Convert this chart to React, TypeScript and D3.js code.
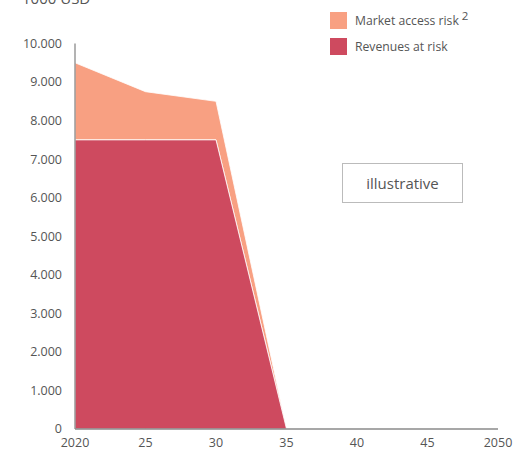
import React from "react";
import * as d3 from "d3";

const years = [2020, 2025, 2030, 2035, 2040, 2045, 2050];
const revenuesAtRisk = [7500, 7500, 7500, 0, 0, 0, 0];
const marketAccessRisk = [2000, 1250, 1000, 0, 0, 0, 0];
const yTicks = [0, 1000, 2000, 3000, 4000, 5000, 6000, 7000, 8000, 9000, 10000];
const xTickLabels = ["2020", "25", "30", "35", "40", "45", "2050"];
const seriesNames = ["Market access risk", "Revenues at risk"];

const W = 513;
const H = 452;
const FONT = "'Open Sans', 'Noto Sans', sans-serif";
const ORANGE = "#F8A082";
const RED = "#CE4A5F";
const AXIS = "#8a8a8a";
const TEXT = "#555";

export default function App() {
  const x = d3.scaleLinear().domain([2020, 2050]).range([75, 498]);
  const y = d3.scaleLinear().domain([0, 10000]).range([429, 43.5]);

  const rows = years.map((yr, i) => ({
    year: yr,
    revenues: revenuesAtRisk[i],
    market: marketAccessRisk[i],
  }));
  const stack = d3.stack<any>().keys(["revenues", "market"])(rows);

  const area = d3
    .area<any>()
    .x((d) => x(d.data.year))
    .y0((d) => y(d[0]))
    .y1((d) => y(d[1]));

  const fmt = d3.formatLocale({ decimal: ",", thousands: ".", grouping: [3], currency: ["", ""] }).format(",");

  return (
    <svg
      width={W}
      height={H}
      style={{ position: "absolute", left: 0, top: 0 }}
      fontFamily={FONT}
    >
      <text x={22} y={4} fontSize={15} fill={TEXT}>
        1000 USD
      </text>

      {/* stacked areas */}
      <path d={area(stack[1]) || ""} fill={ORANGE} stroke="#fff" strokeWidth={0.8} />
      <path d={area(stack[0]) || ""} fill={RED} stroke="#fff" strokeWidth={0.8} />

      {/* axes */}
      <line x1={x(2020)} x2={x(2020)} y1={y(10000)} y2={y(0)} stroke={AXIS} strokeWidth={1.3} />
      <line x1={x(2020)} x2={x(2050)} y1={y(0)} y2={y(0)} stroke={AXIS} strokeWidth={1.3} />

      {yTicks.map((t) => (
        <text
          key={t}
          x={62}
          y={y(t)}
          dy="0.35em"
          textAnchor="end"
          fontSize={12.5}
          fill={TEXT}
        >
          {fmt(t)}
        </text>
      ))}

      {years.map((yr, i) => (
        <text
          key={yr}
          x={x(yr)}
          y={447}
          textAnchor="middle"
          fontSize={12.5}
          fill={TEXT}
        >
          {xTickLabels[i]}
        </text>
      ))}

      {/* legend */}
      <rect x={330} y={12} width={17} height={17} fill={ORANGE} />
      <text x={355} y={25} fontSize={12.2} fill={TEXT}>
        {seriesNames[0]}
        <tspan dx={3} dy={-5} fontSize={11.5}>2</tspan>
      </text>
      <rect x={330} y={38} width={17} height={17} fill={RED} />
      <text x={355} y={51} fontSize={12.2} fill={TEXT}>
        {seriesNames[1]}
      </text>

      {/* annotation box */}
      <rect x={342.5} y={163.5} width={120} height={39} fill="#fff" stroke="#bbb" strokeWidth={1} />
      <text x={402.5} y={189} textAnchor="middle" fontSize={15} fill={TEXT}>
        illustrative
      </text>
    </svg>
  );
}
